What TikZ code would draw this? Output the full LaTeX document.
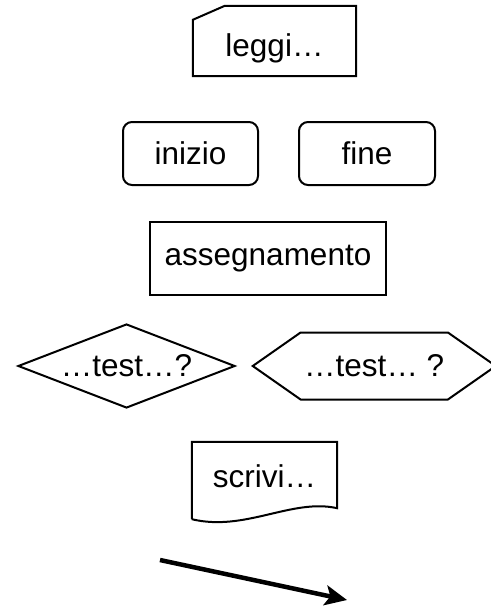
\documentclass[tikz,border=0pt]{standalone}
\usepackage{fontspec}
\setmainfont{Liberation Sans}
\usepackage{tikz}
\usetikzlibrary{positioning,calc,shapes.geometric,shapes.symbols,arrows.meta}

\begin{document}
\begin{tikzpicture}[
			x=1pt, y=-1pt,
			font=\fontsize{31.5}{38}\selectfont,
			outline/.style={
				draw,
				line width=2pt,
				line join=miter
			},
			terminal/.style={
				outline,
				rectangle,
				rounded corners=9pt,
				minimum width=135pt,
				minimum height=63pt
			},
			process/.style={
				outline,
				rectangle,
				minimum height=73pt
			},
			decision/.style={
				outline,
				diamond,
				inner sep=0pt
			},
			loopcond/.style={
				signal,
				signal from=nowhere,
				signal to=west and east,
				signal pointer angle=70,
				outline,
				minimum height=67pt
			},
			plain/.style={
				rectangle,
				inner sep=0pt
			}
			]
			\useasboundingbox (0,0) rectangle (490,607);
			% input
			\node[plain, minimum width=163pt, minimum height=56pt] (leggi) at (274.5,48) {leggi…};
			\draw[outline] (leggi.north west) -- ++(32,-14) -- ($(leggi.north east)+(0,-14)$)
				-- (leggi.south east) -- (leggi.south west) -- cycle;
			% start / end
			\node[terminal] (inizio) at (190.5,153.5) {inizio};
			\node[terminal, minimum width=136pt, right=39pt of inizio] (fine) {fine};
			% assignment
			\node[process, minimum width=236pt] (assegna) at (268,258.5) {assegnamento};
			% tests
			\node[decision, minimum width=217pt, minimum height=84pt,
				label={center:…test…?}] (test1) at (126.5,366) {};
			\node[loopcond, minimum width=243pt, right=15pt of test1] (test2) {…test… ?};
			% output
			\node[plain, minimum width=145pt, minimum height=68pt] (scrivi) at (264.5,476) {scrivi…};
			\draw[outline] (scrivi.south west) ++(0,9) -- (scrivi.north west) -- (scrivi.north east)
				-- ($(scrivi.south east)+(0,-2)$) .. controls (292,498) and (245,532) .. ($(scrivi.south west)+(0,9)$);
			% flow
			\coordinate (from) at (160,560);
			\coordinate (to) at (347,600);
			\draw[line width=4.5pt, -{Stealth[length=22pt,width=20pt,inset=5pt]}] (from) -- (to);
		\end{tikzpicture}
\end{document}
